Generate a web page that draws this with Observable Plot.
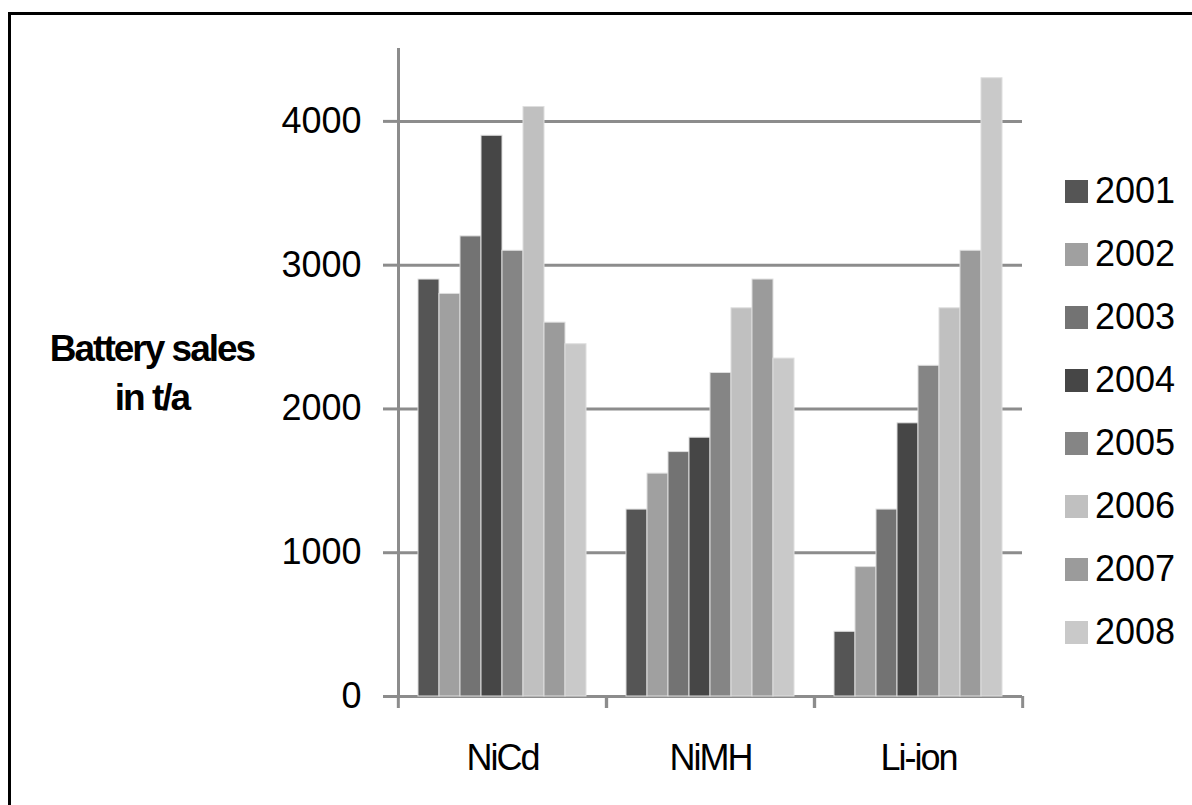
<!DOCTYPE html>
<html>
<head>
<meta charset="utf-8">
<script src="https://cdn.jsdelivr.net/npm/d3@7"></script>
<script src="https://cdn.jsdelivr.net/npm/@observablehq/plot@0.6"></script>
<style>
  html, body { margin: 0; padding: 0; background: #fff; }
  #chart { position: relative; width: 1192px; height: 805px; overflow: hidden; font-family: "Liberation Sans", Arial, sans-serif; }
  #frame { position: absolute; left: 8px; top: 12px; width: 1300px; height: 900px; border-top: 3px solid #000; border-left: 3px solid #000; box-sizing: border-box; }
  #plot { position: absolute; left: 0; top: 0; }
  #ylabel { position: absolute; left: 2px; top: 324px; width: 300px; text-align: center; font-weight: bold; font-size: 37px; line-height: 49px; letter-spacing: -2px; color: #000; }
  .legend-row { position: absolute; left: 1065px; height: 36px; display: flex; align-items: center; }
  .legend-row .sw { width: 23px; height: 23px; margin-right: 7px; }
  .legend-row .lb { font-size: 36px; line-height: 36px; color: #000; }
  g[aria-label="fx-axis tick label"] text { letter-spacing: -2px; }
</style>
</head>
<body>
<div id="chart">
  <div id="frame"></div>
  <div id="plot"></div>
  <div id="ylabel">Battery sales<br>in t/a</div>
</div>
<script>
// Battery sales (t/a) by chemistry and year
const categories = ["NiCd", "NiMH", "Li-ion"];
const years = ["2001", "2002", "2003", "2004", "2005", "2006", "2007", "2008"];
const salesNiCd = [2900, 2800, 3200, 3900, 3100, 4100, 2600, 2450];
const salesNiMH = [1300, 1550, 1700, 1800, 2250, 2700, 2900, 2350];
const salesLiIon = [450, 900, 1300, 1900, 2300, 2700, 3100, 4300];
const yearColors = ["#555555", "#a0a0a0", "#737373", "#464646", "#858585", "#c0c0c0", "#9b9b9b", "#c9c9c9"];
const yTicks = [0, 1000, 2000, 3000, 4000];

const seriesByCategory = [salesNiCd, salesNiMH, salesLiIon];
const rows = categories.flatMap((category, i) =>
  years.map((year, j) => ({category, year, sales: seriesByCategory[i][j]}))
);

const W = 1192, H = 805;
const mLeft = 397, mRight = 170, mTop = 49, mBottom = 109;
const halfBand = (W - mLeft - mRight) / categories.length / 2;
const gray = "#8c8c8c";

const chart = Plot.plot({
  width: W,
  height: H,
  marginLeft: mLeft,
  marginRight: mRight,
  marginTop: mTop,
  marginBottom: mBottom,
  style: {fontFamily: "'Liberation Sans', Arial, sans-serif", background: "transparent", overflow: "visible"},
  fx: {domain: categories, padding: 0, label: null, axis: null},
  x: {domain: years, paddingInner: 0, paddingOuter: 0.735, axis: null},
  y: {domain: [0, 4500], axis: null},
  color: {domain: years, range: yearColors},
  marks: [
    // horizontal gridlines (including the baseline at 0)
    Plot.ruleY(yTicks, {stroke: gray, strokeWidth: 3}),
    // grouped bars
    Plot.barY(rows, {fx: "category", x: "year", y: "sales", fill: "year", stroke: "#dedede", strokeWidth: 1}),
    // vertical axis line
    Plot.frame({anchor: "left", facetAnchor: "left", stroke: gray, strokeWidth: 3}),
    // value axis
    Plot.axisY({
      ticks: yTicks, tickSize: 15, tickPadding: 22, tickFormat: (d) => String(d),
      fontSize: 36, stroke: gray, strokeWidth: 3, fill: "#000", label: null
    }),
    // category boundary ticks
    Plot.axisFx({anchor: "bottom", tickSize: 12, tickFormat: () => "", stroke: gray, strokeWidth: 3, dx: -halfBand, label: null}),
    Plot.axisFx({anchor: "bottom", tickSize: 12, tickFormat: () => "", stroke: gray, strokeWidth: 3, dx: halfBand, label: null}),
    // category labels
    Plot.axisFx({anchor: "bottom", tickSize: 0, tickPadding: 48, fontSize: 36, fill: "#000", label: null})
  ]
});
document.getElementById("plot").append(chart);

// legend on the right
const chartDiv = document.getElementById("chart");
years.forEach((year, i) => {
  const row = document.createElement("div");
  row.className = "legend-row";
  row.style.top = (191 + 63 * i - 18) + "px";
  const sw = document.createElement("div");
  sw.className = "sw";
  sw.style.background = yearColors[i];
  const lb = document.createElement("span");
  lb.className = "lb";
  lb.textContent = year;
  row.append(sw, lb);
  chartDiv.append(row);
});
</script>
</body>
</html>
